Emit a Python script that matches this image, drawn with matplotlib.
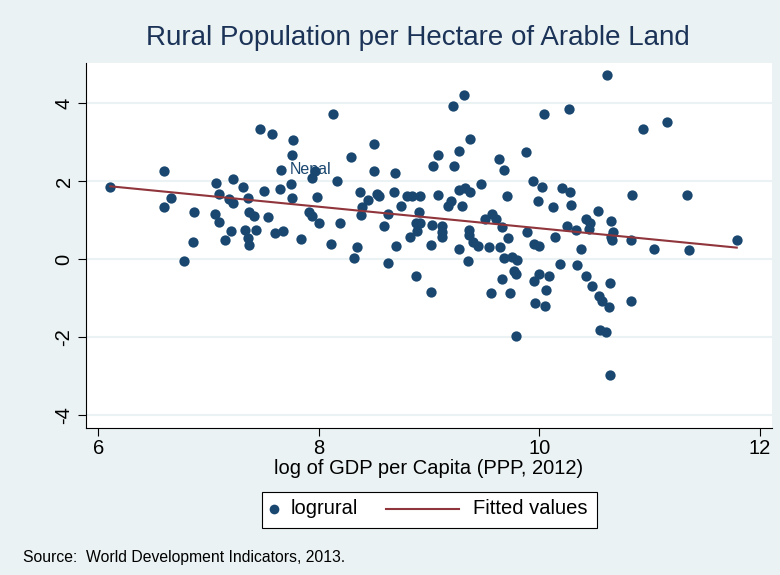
import numpy as np
import matplotlib
matplotlib.use("Agg")
import matplotlib.pyplot as plt
from matplotlib.patches import Rectangle
from matplotlib.lines import Line2D

plt.rcParams['font.family'] = ['Liberation Sans', 'DejaVu Sans']

# log GDP per capita (x) and log rural population per hectare (y)
loggdp = [6.11, 6.60, 6.66, 6.60, 6.87, 6.86, 6.78, 7.07, 7.22, 7.31,
          7.10, 7.19, 7.22, 7.36, 7.06, 7.10, 7.20, 7.15, 7.33, 7.36,
          7.37, 7.43, 7.37, 7.41, 7.54, 7.50, 7.47, 7.58, 7.77, 7.76,
          7.66, 7.65, 7.75, 7.76, 7.60, 7.68, 7.84, 7.91, 7.94, 8.00,
          7.97, 7.94, 7.98, 8.13, 8.50, 8.29, 8.50, 8.69, 8.17, 8.19,
          8.37, 8.45, 8.53, 8.55, 8.39, 8.38, 8.63, 8.59, 8.68, 8.75,
          8.80, 8.85, 8.92, 8.91, 8.88, 8.92, 8.89, 8.83, 8.70, 8.35,
          8.11, 9.04, 9.08, 9.23, 9.27, 9.37, 9.22, 9.32, 9.08, 9.03,
          9.02, 9.12, 9.12, 9.12, 9.17, 9.20, 9.30, 9.27, 9.33, 9.37,
          9.47, 9.36, 9.36, 9.27, 9.40, 9.44, 9.54, 9.64, 9.72, 9.51,
          9.57, 9.61, 9.66, 9.63, 9.68, 9.71, 9.88, 9.94, 9.89, 8.32,
          8.63, 8.88, 9.02, 9.35, 9.68, 9.75, 9.80, 9.77, 9.79, 9.66,
          9.56, 9.73, 9.79, 10.61, 10.04, 10.27, 10.94, 11.16, 10.02, 10.21,
          10.28, 9.99, 10.12, 10.29, 10.53, 10.84, 11.34, 10.42, 10.46, 10.65,
          10.45, 10.25, 10.33, 10.67, 10.65, 10.66, 10.83, 11.04, 11.36, 11.79,
          10.14, 9.95, 10.00, 10.38, 10.19, 10.34, 9.95, 10.00, 10.09, 10.06,
          9.96, 10.05, 10.42, 10.48, 10.54, 10.57, 10.63, 10.64, 10.83, 10.55,
          10.60, 10.64]
logrural = [1.85, 2.26, 1.57, 1.33, 1.21, 0.44, -0.06, 1.96, 2.05, 1.85,
            1.66, 1.53, 1.45, 1.56, 1.15, 0.94, 0.72, 0.49, 0.74, 0.55,
            0.36, 0.76, 1.21, 1.11, 1.08, 1.75, 3.35, 3.21, 3.06, 2.67,
            2.29, 1.80, 1.94, 1.58, 0.68, 0.71, 0.52, 1.21, 1.10, 0.93,
            2.26, 2.09, 1.60, 3.71, 2.96, 2.63, 2.26, 2.22, 2.01, 0.93,
            1.71, 1.51, 1.68, 1.62, 1.33, 1.14, 1.15, 0.86, 1.72, 1.36,
            1.63, 1.63, 1.62, 1.21, 0.93, 0.93, 0.71, 0.57, 0.33, 0.32,
            0.39, 2.39, 2.67, 2.40, 2.77, 3.08, 3.94, 4.21, 1.64, 0.88,
            0.35, 0.85, 0.70, 0.57, 1.37, 1.48, 1.37, 1.77, 1.83, 1.71,
            1.92, 0.76, 0.62, 0.27, 0.44, 0.33, 0.30, 0.32, 0.55, 1.04,
            1.15, 1.02, 0.83, 2.57, 2.28, 1.62, 2.76, 2.00, 0.70, 0.02,
            -0.10, -0.43, -0.84, -0.04, 0.03, 0.06, -0.01, -0.30, -0.37, -0.51,
            -0.88, -0.86, -1.97, 4.71, 3.72, 3.85, 3.34, 3.51, 1.86, 1.82,
            1.72, 1.48, 1.33, 1.38, 1.24, 1.65, 1.64, 1.03, 0.92, 0.97,
            0.77, 0.86, 0.76, 0.70, 0.57, 0.49, 0.49, 0.26, 0.23, 0.49,
            0.56, 0.38, 0.33, 0.27, -0.12, -0.16, -0.55, -0.38, -0.44, -0.80,
            -1.12, -1.19, -0.44, -0.70, -0.94, -1.07, -1.24, -0.62, -1.07, -1.82,
            -1.86, -2.98]
label_country = "Nepal"
label_point = (7.66, 2.29)

xticks = [6, 8, 10, 12]
yticks = [-4, -2, 0, 2, 4]

navy = '#1a476f'
maroon = '#90353b'
bg = '#eaf2f3'

x = np.array(loggdp)
y = np.array(logrural)
b, a = np.polyfit(x, y, 1)
xs = np.sort(x)

fig = plt.figure(figsize=(7.8, 5.75), dpi=100, facecolor=bg)
ax = fig.add_axes([0.1103, 0.2557, 0.8795, 0.6347])
ax.set_facecolor('white')

ax.scatter(x, y, s=55, color=navy, linewidths=0, zorder=3)
ax.plot(xs, a + b * xs, color=maroon, lw=1.5, zorder=4)
ax.annotate(label_country, label_point, xytext=(6, 0), textcoords='offset points',
            va='center', ha='left', color=navy, fontsize=11.5, zorder=2)

ax.set_xlim(5.89, 12.11)
ax.set_ylim(-4.33, 5.03)
ax.set_xticks(xticks)
ax.set_yticks(yticks)
ax.set_yticklabels([str(v) for v in yticks], rotation=90, va='center')
ax.tick_params(labelsize=14.5, length=6, width=0.8, colors='black')
ax.tick_params(axis='x', pad=2)
ax.tick_params(axis='y', pad=3)
ax.grid(axis='y', color=bg, lw=1.5)
ax.set_axisbelow(True)
for s in ['top', 'right']:
    ax.spines[s].set_visible(False)
ax.spines['left'].set_color('black')
ax.spines['bottom'].set_color('black')

ax.set_xlabel('log of GDP per Capita (PPP, 2012)', fontsize=14.5, labelpad=1)
fig.text(0.536, 0.934, 'Rural Population per Hectare of Arable Land',
         ha='center', va='center', fontsize=20, color='#1c3358')

# legend box drawn by hand (marker and line handles have different widths)
fig.add_artist(Rectangle((0.3359, 0.0817), 0.4295, 0.0626, transform=fig.transFigure,
                         facecolor='white', edgecolor='black', lw=0.8))
fig.add_artist(Line2D([0.3513], [0.1148], transform=fig.transFigure, marker='o',
                      ms=7, color=navy, mew=0, ls='none'))
fig.text(0.3727, 0.1148, 'logrural', va='center', fontsize=14.5)
fig.add_artist(Line2D([0.4949, 0.5885], [0.1148, 0.1148], transform=fig.transFigure,
                      color=maroon, lw=1.5))
fig.text(0.606, 0.1148, 'Fitted values', va='center', fontsize=14.5)

fig.text(0.029, 0.0313, 'Source:  World Development Indicators, 2013.',
         va='center', fontsize=11.3)

fig.savefig('out.png', dpi=100, facecolor=bg)
